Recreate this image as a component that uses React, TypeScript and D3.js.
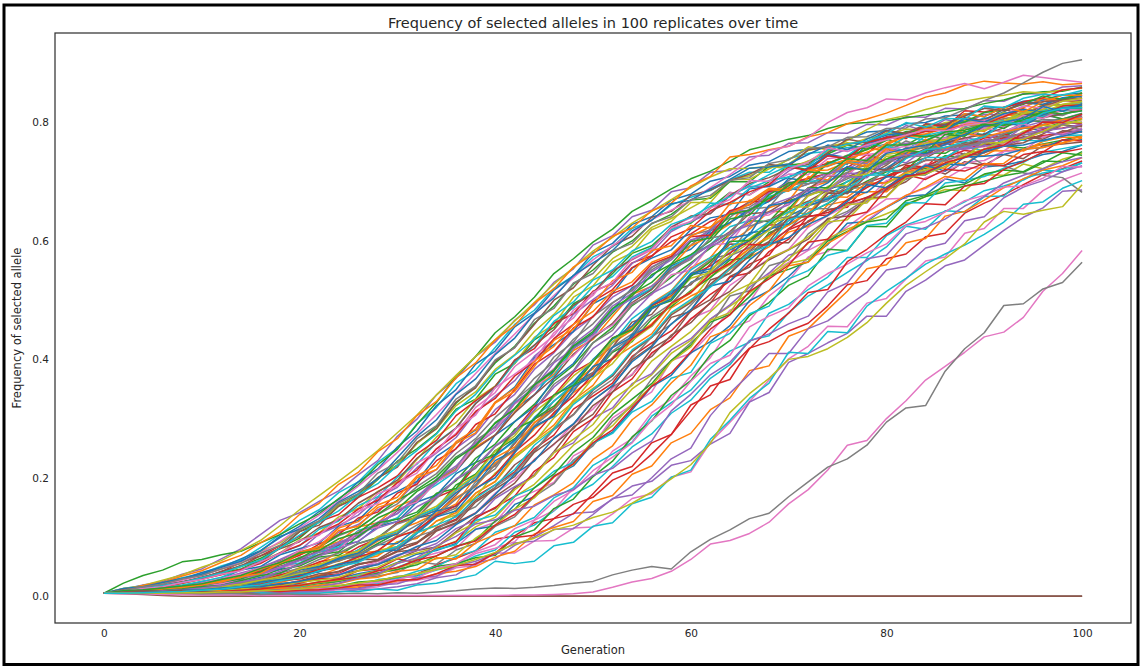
import * as d3 from 'd3';
import { useLayoutEffect, useRef } from 'react';

const WIDTH = 1141;
const HEIGHT = 666;

// generations sampled for every replicate (x values)
const GENERATIONS = [
  0, 2, 4, 6, 8, 10, 12, 14, 16, 18, 20, 22, 24, 26, 28, 30, 32, 34, 36, 38, 40, 42, 44, 46, 48, 50,
  52, 54, 56, 58, 60, 62, 64, 66, 68, 70, 72, 74, 76, 78, 80, 82, 84, 86, 88, 90, 92, 94, 96, 98, 100,
];
const X_TICKS = [0, 20, 40, 60, 80, 100];
const Y_TICKS = [0, 0.2, 0.4, 0.6, 0.8];
const TAB10 = [
  '#1f77b4', '#ff7f0e', '#2ca02c', '#d62728', '#9467bd',
  '#8c564b', '#e377c2', '#7f7f7f', '#bcbd22', '#17becf',
];

// selected allele frequency in thousandths, one row per replicate
const batchA = [
  [5,5,7,9,11,14,20,24,32,38,55,70,80,107,117,145,158,194,211,251,272,317,340,380,422,444,484,521,539,573,586,617,631,651,667,688,685,714,720,728,735,744,753,765,756,782,775,795,784,800,808],
  [5,7,8,10,11,14,16,24,28,36,40,54,59,73,76,103,109,139,156,202,225,248,293,318,363,384,428,449,490,508,542,566,597,620,650,649,690,700,715,731,755,748,766,764,790,785,806,813,811,821,828],
  [5,9,13,19,24,29,39,46,61,82,98,126,154,167,197,228,249,275,316,333,375,393,433,454,494,512,545,579,592,622,630,656,682,678,700,728,720,746,739,765,772,762,780,771,785,779,799,803,802,806,810],
  [5,6,7,7,8,10,12,13,17,19,26,34,38,54,59,77,89,116,130,168,188,210,249,272,316,338,360,405,428,448,482,510,532,561,576,619,632,653,657,695,699,728,725,754,756,763,775,782,796,802,810],
  [5,7,9,11,14,19,25,31,44,54,71,83,108,121,146,161,193,214,250,274,315,341,383,411,447,472,505,525,556,573,602,609,645,648,683,685,696,712,734,731,754,765,766,773,779,793,793,801,813,806,816],
  [5,5,5,6,7,8,10,11,14,17,24,29,37,43,55,63,77,83,109,135,148,183,205,244,286,307,353,374,418,438,482,501,540,556,597,597,634,652,661,674,686,700,725,713,734,728,746,739,761,764,767],
  [5,5,6,6,8,8,10,10,13,14,15,23,25,36,40,44,64,73,81,113,125,163,177,192,237,255,301,323,345,398,410,444,483,497,545,564,584,601,624,648,671,672,707,718,732,736,752,773,775,785,790],
  [5,9,11,14,17,22,29,36,49,60,75,83,102,115,138,156,185,207,241,266,302,330,368,396,434,460,495,518,551,571,593,620,650,657,679,702,724,726,738,756,764,779,779,796,801,798,814,814,830,830,835],
  [5,6,7,8,10,11,14,17,26,30,35,48,52,68,70,92,98,127,137,174,193,234,260,284,327,351,374,414,437,478,498,540,560,587,605,648,646,685,684,725,739,750,759,774,781,789,799,818,813,829,833],
  [5,13,18,23,31,38,51,61,82,104,128,146,175,193,226,250,291,319,359,382,420,459,483,520,541,573,590,621,635,661,674,685,703,716,716,739,748,751,758,759,772,778,778,798,793,808,799,812,822,819,823],
];

const batchB = [
  [5,5,5,6,8,7,8,10,12,16,20,21,30,38,44,57,71,77,89,113,119,155,168,203,220,258,277,315,354,373,411,430,457,499,516,540,572,594,630,633,657,675,678,705,698,725,728,735,746,751,762],
  [5,7,9,11,14,17,24,30,43,53,70,81,92,117,124,152,165,197,214,252,272,311,351,375,415,434,473,510,523,557,592,608,629,669,671,690,705,734,730,757,752,777,775,784,797,802,812,813,823,838,833],
  [5,8,10,12,13,18,23,31,34,45,51,66,69,89,99,124,138,172,195,233,257,295,324,363,390,428,454,491,513,539,563,588,611,634,633,668,678,686,700,719,710,724,722,744,741,755,761,757,764,770,778],
  [5,5,5,5,5,4,6,5,6,6,8,10,13,14,22,31,37,53,64,77,96,102,124,131,155,167,196,211,240,273,323,340,385,419,430,448,461,490,526,533,570,578,607,613,647,664,678,695,712,722,735],
  [5,11,19,25,37,46,63,80,104,128,141,160,178,205,229,270,299,340,368,405,429,466,492,530,553,593,609,641,652,683,690,716,719,742,745,765,766,783,782,797,796,810,809,824,823,837,836,849,848,860,862],
  [5,5,5,7,9,11,14,19,21,30,36,54,60,78,100,106,132,139,171,206,220,258,299,317,359,378,421,463,476,515,526,561,595,594,634,654,667,686,680,710,720,730,740,758,746,764,760,773,776,783,796],
  [5,5,6,7,7,8,11,12,17,20,25,29,37,47,59,67,83,101,123,141,174,197,231,256,291,316,351,375,410,434,469,483,525,548,570,586,623,643,660,669,702,706,730,729,755,759,765,779,787,801,805],
  [5,6,7,7,10,12,14,20,24,30,41,44,51,68,73,82,109,135,149,193,215,261,286,330,354,398,421,443,485,506,545,569,578,625,636,641,678,690,705,718,731,758,760,774,791,797,807,810,823,841,840],
  [5,9,13,16,22,28,37,44,59,73,95,107,134,148,177,193,231,269,293,333,355,394,437,459,505,524,564,580,619,633,665,665,703,710,726,730,753,760,766,762,783,776,796,785,805,801,803,811,815,825,827],
  [5,5,5,5,5,6,6,7,9,9,10,13,14,20,22,30,34,44,52,68,78,108,120,144,172,189,219,252,274,309,331,368,391,432,440,479,507,526,547,567,590,625,620,651,649,675,676,705,715,721,732],
];

const batchC = [
  [5,7,9,11,14,16,22,27,38,46,61,70,86,92,118,126,159,171,207,226,272,295,320,367,393,438,459,501,519,558,573,613,631,654,667,706,701,732,730,763,776,781,791,796,802,806,818,835,830,842,846],
  [5,5,6,7,8,10,12,14,19,23,31,35,47,61,68,91,98,127,141,174,194,238,263,289,331,356,401,422,443,487,507,523,552,573,590,615,625,661,668,683,683,711,712,736,729,753,752,755,763,766,778],
  [5,7,8,8,11,13,19,20,27,30,40,49,64,70,89,107,135,148,188,206,246,266,300,321,356,375,412,430,468,489,516,538,568,572,614,627,647,663,683,701,717,720,749,748,767,761,779,791,791,800,806],
  [5,11,14,20,24,32,41,57,68,85,101,126,138,167,183,203,240,263,305,330,354,399,418,461,477,515,528,563,575,599,612,633,647,666,668,697,706,714,724,746,735,750,744,766,759,774,777,773,778,782,785],
  [5,5,9,13,18,23,30,39,48,62,77,105,119,137,166,184,217,242,268,310,338,364,405,433,476,501,525,562,581,616,633,647,677,692,693,718,735,743,755,759,774,795,786,805,799,814,813,827,839,836,847],
  [5,6,7,8,10,12,13,17,22,29,32,43,48,62,62,82,91,115,128,162,184,222,245,283,307,348,372,413,437,475,496,527,555,583,610,638,642,680,694,710,728,752,747,766,768,795,793,811,821,820,830],
  [5,5,5,6,5,7,7,9,8,11,12,14,14,22,24,34,31,46,54,72,81,92,128,145,183,202,245,266,310,333,372,403,452,465,507,533,573,582,611,635,658,677,689,705,724,723,751,753,776,781,788],
  [5,7,9,10,14,19,22,31,39,48,66,74,81,107,118,132,165,197,217,263,285,331,358,404,429,473,496,516,555,574,610,618,640,666,685,685,696,711,732,726,749,769,758,775,770,791,784,799,805,804,810],
  [5,5,5,6,7,7,8,10,13,14,19,24,27,36,43,56,63,80,93,117,133,168,189,221,255,278,314,350,374,410,432,468,490,512,539,562,569,604,620,633,646,660,675,687,685,712,711,730,722,738,748],
  [5,8,10,12,17,19,27,31,45,50,56,75,83,111,121,132,168,188,211,257,281,328,350,372,419,438,484,503,520,554,576,594,624,635,675,685,701,702,733,734,761,752,778,786,782,801,800,818,820,828,833],
];

const batchD = [
  [5,10,15,23,29,40,49,63,77,99,118,143,163,193,215,252,279,322,349,392,414,455,478,517,541,580,596,628,641,669,679,701,709,728,734,751,755,769,771,784,786,798,800,811,813,824,826,836,838,847,850],
  [5,5,7,9,11,13,17,20,28,34,48,56,74,75,98,106,133,145,179,195,234,252,293,315,358,387,429,455,495,516,555,572,612,630,656,668,709,703,736,733,766,776,781,790,797,804,809,825,841,837,850],
  [5,9,13,17,24,31,39,50,64,81,109,125,152,172,200,222,258,287,326,355,394,422,461,490,527,551,581,600,629,645,669,672,700,700,726,728,732,747,762,755,772,780,776,781,783,796,796,804,815,806,815],
  [5,6,7,8,10,13,16,22,26,36,44,58,64,83,97,124,133,167,181,220,238,279,320,339,378,397,436,452,491,506,542,558,580,600,627,628,664,673,688,699,709,724,736,737,764,761,781,770,788,799,799],
  [5,5,6,7,7,9,10,13,16,21,24,31,35,49,55,70,77,89,114,129,165,185,203,243,259,301,318,359,376,416,435,468,492,522,546,576,586,628,647,667,688,718,716,739,742,771,770,793,802,803,813],
  [5,7,9,11,14,17,23,29,41,50,61,78,87,109,120,145,161,193,213,249,272,310,340,369,409,436,461,496,518,553,572,594,616,646,649,670,688,710,708,722,734,743,753,755,765,768,761,776,772,786,784],
  [5,5,5,6,5,5,5,5,6,7,6,8,11,12,16,24,27,33,48,52,73,73,93,94,115,117,139,165,173,201,210,260,294,329,365,401,422,456,455,495,503,536,566,573,613,621,655,655,685,703,715],
  [5,5,6,7,8,10,12,16,19,26,32,43,50,58,73,81,101,112,136,151,184,208,245,281,306,343,366,402,438,459,492,526,546,582,599,619,654,655,688,691,724,742,744,758,764,776,781,798,814,812,825],
  [5,13,17,22,29,36,46,56,76,90,112,127,153,169,199,221,258,283,322,345,383,408,447,476,513,536,570,591,623,638,656,674,704,704,722,737,759,754,762,773,779,789,787,800,804,801,817,815,830,829,832],
  [5,5,5,5,6,6,7,8,8,10,11,14,18,19,28,31,42,50,67,77,108,119,133,166,183,221,240,260,304,327,348,385,414,429,478,493,518,539,572,572,609,627,639,650,666,685,693,703,720,717,732],
];

const batchE = [
  [5,9,11,14,17,25,30,44,50,70,80,90,118,128,161,177,194,236,258,281,327,353,402,425,447,494,511,554,571,585,619,639,645,688,692,708,724,746,741,767,779,783,786,794,815,810,826,833,831,840,845],
  [5,6,7,8,10,12,16,18,25,33,39,52,64,73,93,112,124,140,167,185,223,246,283,307,344,368,403,438,460,493,512,545,563,587,608,627,648,675,674,698,698,716,725,723,747,744,761,752,768,775,775],
  [5,22,35,44,58,62,70,76,90,104,122,139,165,188,222,248,290,327,372,405,445,472,505,545,570,598,620,650,668,688,705,718,735,754,762,772,778,790,798,800,803,808,813,818,824,832,838,848,852,853,860],
  [5,6,7,7,7,10,11,14,14,20,22,30,29,43,46,63,57,81,92,132,150,169,211,234,278,300,345,367,411,433,468,495,539,546,582,603,642,644,670,690,708,720,726,741,753,749,774,772,790,791,797],
  [5,7,9,11,14,17,22,29,39,49,63,75,91,103,125,139,168,198,220,255,280,317,357,384,426,451,490,512,548,568,600,618,651,652,681,699,701,715,721,739,758,750,767,762,775,768,786,792,791,797,801],
  [5,9,13,18,23,32,39,52,58,81,109,120,152,167,200,218,260,283,328,352,397,420,459,500,521,559,592,608,640,650,677,686,702,713,729,726,754,758,764,767,774,781,793,785,809,803,823,812,829,837,837],
  [5,7,8,11,12,18,21,29,34,49,54,71,79,109,117,147,159,193,212,258,281,325,348,384,406,440,458,494,509,543,551,593,596,640,644,664,680,711,710,741,754,760,770,781,799,803,813,828,824,836,840],
  [5,6,6,6,7,8,9,10,12,11,16,18,26,30,34,40,58,54,78,89,118,134,168,190,230,254,295,321,367,398,428,457,507,516,558,568,612,636,650,672,688,704,719,740,761,763,781,790,797,805,809],
  [5,11,18,27,36,49,60,77,94,119,146,170,194,219,246,276,306,340,373,405,433,465,496,527,555,583,606,630,650,670,690,708,722,723,726,722,735,752,770,788,805,812,822,830,836,842,846,852,850,855,858],
  [5,5,5,7,9,11,14,18,22,30,38,51,62,78,97,109,134,149,180,202,237,262,302,329,359,400,428,469,493,515,551,572,589,610,632,649,665,673,701,711,718,718,741,741,760,752,772,770,769,778,779],
];

const batchF = [
  [5,6,7,8,10,12,13,19,23,33,35,48,62,67,87,89,115,144,152,188,229,247,287,304,346,388,401,442,456,493,530,545,571,614,618,642,658,692,691,722,721,748,748,763,780,780,800,794,813,824,825],
  [5,10,18,23,34,43,57,69,90,108,138,157,189,209,244,266,305,329,369,394,433,457,495,519,556,578,608,622,651,664,693,709,742,746,754,760,776,783,798,806,816,829,843,850,863,870,867,865,869,864,866],
  [5,5,5,5,6,7,6,8,9,11,11,16,17,24,26,33,36,50,55,65,69,100,112,148,164,202,228,269,296,339,364,408,432,474,496,525,541,586,584,625,624,662,675,683,693,701,710,716,732,749,745],
  [5,7,9,11,14,20,24,33,42,58,69,88,104,132,142,174,189,229,249,290,308,349,392,413,453,472,511,525,561,574,607,610,651,661,684,688,723,731,745,747,775,773,798,793,820,818,825,835,842,855,859],
  [5,5,5,5,5,5,6,5,6,6,7,7,7,11,12,16,21,31,36,56,63,86,100,119,140,142,164,186,194,221,229,257,275,328,344,395,410,428,444,473,473,515,534,558,568,593,618,640,656,684,686],
  [5,5,5,6,7,8,10,12,16,20,25,34,42,53,61,76,90,111,124,140,168,191,230,257,283,322,345,384,405,441,462,496,515,548,568,585,603,638,642,672,675,708,727,729,743,749,761,766,781,796,793],
  [5,5,9,13,17,22,31,37,48,57,77,92,115,143,157,191,208,249,275,319,344,388,413,440,483,508,551,568,585,624,639,648,682,678,697,713,712,739,743,746,750,754,768,774,770,791,784,798,786,800,808],
  [5,6,7,9,10,12,16,19,25,31,41,48,60,70,86,101,120,137,164,187,222,249,288,315,350,377,414,438,472,494,529,545,575,589,621,634,660,668,693,697,720,718,737,735,748,728,727,715,711,707,682],
  [5,5,6,7,7,8,10,12,16,17,24,27,32,43,49,64,73,82,107,124,144,180,203,242,265,290,332,356,397,422,447,480,511,527,571,585,607,633,661,664,697,714,720,731,742,766,766,785,795,795,805],
  [5,9,11,14,19,25,32,45,57,73,85,113,127,153,168,201,223,260,284,326,352,395,423,464,487,523,540,573,589,619,632,664,661,689,702,708,720,729,744,767,757,776,770,786,778,798,803,804,810,815,820],
];

const batchG = [
  [5,6,7,8,10,12,15,20,24,33,44,50,64,73,95,105,131,145,175,197,238,264,300,337,362,399,434,457,492,511,543,549,585,601,620,629,660,671,683,682,709,706,728,718,742,743,746,755,758,770,771],
  [5,5,5,5,5,5,6,7,7,9,9,11,13,16,19,26,29,38,42,50,66,76,105,116,126,160,170,206,220,259,275,315,335,381,389,439,452,484,515,553,560,597,604,642,650,669,690,705,720,727,741],
  [5,7,9,11,14,18,24,29,41,54,64,82,104,115,138,162,180,202,235,255,293,316,355,381,419,443,478,511,530,561,577,600,637,644,678,698,701,731,744,754,770,785,786,793,801,817,821,831,845,839,850],
  [5,9,13,16,22,29,36,45,55,73,86,107,122,147,162,192,213,249,273,312,334,372,396,435,459,498,518,555,574,607,621,651,665,683,695,725,719,744,739,766,775,776,785,788,795,797,810,823,817,828,830],
  [5,8,10,12,14,19,24,32,37,48,60,69,89,99,124,140,169,192,232,259,287,326,353,394,418,442,481,504,524,548,573,593,614,627,660,672,684,687,714,715,737,732,755,756,757,767,771,783,786,790,797],
  [5,7,7,7,10,11,16,16,19,26,29,38,41,55,60,75,79,110,123,159,181,202,243,266,290,331,355,399,423,471,481,534,545,576,599,640,641,681,680,721,720,740,756,766,774,780,791,810,808,815,822],
  [5,9,14,20,27,35,46,58,73,92,115,137,160,186,213,243,274,307,342,376,410,443,476,508,538,568,592,614,636,652,668,690,712,736,753,760,775,800,817,825,840,838,850,859,866,857,868,880,876,872,868],
  [5,5,7,9,11,14,16,22,28,39,47,62,73,89,98,122,133,165,197,216,253,275,314,358,381,428,449,493,511,552,569,605,611,654,657,696,697,701,716,736,730,752,758,758,761,767,777,779,784,797,787],
  [5,6,7,8,10,12,15,17,24,30,38,43,55,63,77,84,108,119,146,167,208,234,260,301,328,369,393,432,456,493,514,552,575,597,618,657,658,692,694,728,746,751,765,771,781,787,802,820,817,831,836],
  [5,5,5,7,6,8,9,11,11,14,15,24,26,34,38,49,61,79,87,128,137,169,183,211,226,258,275,311,329,368,378,427,444,477,490,536,550,576,584,626,630,665,664,698,702,709,723,733,750,756,762],
];

const batchH = [
  [5,13,16,23,30,37,49,59,76,101,113,131,159,177,198,234,270,298,341,367,408,436,477,504,542,563,584,617,635,663,669,688,704,723,725,730,746,762,754,772,787,777,790,787,806,801,815,822,818,825,829],
  [5,7,9,11,15,19,26,32,46,56,74,84,115,126,154,167,203,221,261,282,328,351,397,422,459,481,515,531,564,577,608,624,646,662,687,684,719,727,738,750,762,778,790,789,815,810,826,818,835,846,846],
  [5,5,5,6,7,7,8,10,12,15,17,22,25,30,39,45,53,68,84,95,127,147,183,206,243,268,307,333,359,398,424,463,476,506,541,552,565,600,616,632,637,668,677,692,696,713,720,717,735,734,751],
  [5,5,6,7,8,10,12,16,20,27,34,45,53,66,77,100,112,136,153,181,205,244,272,310,338,375,401,435,458,495,513,544,562,594,593,621,641,648,664,673,691,712,704,721,718,731,727,746,751,750,756],
  [5,5,5,5,5,5,5,7,6,7,7,9,12,13,19,21,31,34,51,59,71,90,93,113,114,138,165,171,200,232,250,305,343,375,410,410,452,465,490,513,551,557,588,596,634,641,673,691,702,717,727],
  [5,11,14,18,24,30,42,51,68,80,92,116,129,157,176,196,233,258,284,325,354,398,424,450,491,512,549,569,587,623,642,646,677,697,707,722,729,749,772,766,786,782,797,797,811,824,820,832,835,838,842],
  [5,5,5,5,6,6,7,8,9,9,12,13,14,20,23,28,37,47,55,75,87,114,129,160,179,212,235,259,297,323,363,393,407,455,473,487,524,545,561,580,595,626,633,649,668,677,691,693,706,726,725],
  [5,6,8,6,4,3,2,1,0,0,0,0,0,0,0,0,0,0,0,0,0,0,0,0,0,0,0,0,0,0,0,0,0,0,0,0,0,0,0,0,0,0,0,0,0,0,0,0,0,0,0],
  [5,6,7,8,10,12,17,20,27,33,46,53,67,76,101,111,137,152,182,204,245,271,311,337,372,397,430,452,486,505,537,547,587,604,628,640,676,689,708,713,743,745,771,769,795,798,801,815,822,836,841],
  [5,9,13,18,23,31,39,50,61,81,103,125,144,171,190,221,246,274,313,341,380,407,434,474,497,534,551,583,599,628,640,659,675,694,712,727,726,754,764,769,781,800,792,807,806,828,825,841,848,846,854],
];

const batchI = [
  [5,6,7,7,8,10,11,15,16,21,25,32,36,47,53,68,84,94,121,140,172,206,228,267,291,331,356,396,421,460,484,524,532,568,594,606,628,643,667,695,690,712,712,730,728,751,760,762,770,777,785],
  [5,7,9,12,14,20,24,33,38,56,72,80,111,118,150,160,200,214,258,276,326,346,388,432,451,493,533,547,584,592,626,622,663,667,689,687,718,720,733,726,756,745,772,753,782,776,784,791,796,805,807],
  [5,7,9,10,12,16,18,26,35,39,55,70,75,101,124,130,142,174,182,226,240,282,298,340,356,396,436,450,488,499,540,565,599,601,628,654,690,690,723,721,738,753,750,780,777,800,790,810,817,820,826],
  [5,5,5,5,5,6,6,6,8,8,10,11,14,19,19,27,28,38,52,54,73,99,103,131,139,173,208,219,259,273,313,355,366,418,451,478,513,518,565,586,611,632,663,661,693,697,721,734,750,771,769],
  [5,5,7,9,11,14,18,24,30,42,53,68,80,93,115,126,151,168,198,219,254,278,315,353,380,418,441,477,511,529,560,591,606,636,648,661,689,684,709,707,735,746,745,754,755,761,761,774,785,779,789],
  [5,4,3,1,0,0,0,0,0,0,0,0,0,0,0,0,0,0,0,0,0,0,0,0,0,0,0,0,0,0,0,0,0,0,0,0,0,0,0,0,0,0,0,0,0,0,0,0,0,0,0],
  [5,9,13,16,23,28,37,43,58,72,94,103,131,142,173,186,225,243,284,306,352,375,399,445,470,513,530,570,586,622,633,656,670,702,701,722,733,757,751,762,771,779,788,786,795,800,793,812,807,822,821],
  [5,10,16,20,29,35,46,55,72,86,112,127,157,173,208,226,266,288,333,355,399,420,467,486,529,545,583,596,630,641,670,677,702,707,731,737,756,759,775,776,790,791,806,808,822,837,850,867,885,900,906],
  [5,5,6,7,7,8,9,11,12,15,17,23,27,32,36,49,56,63,70,98,120,147,166,201,223,263,288,324,355,396,421,466,479,527,541,570,596,632,636,670,674,707,713,726,746,755,769,772,785,801,800],
  [5,5,5,5,5,4,5,4,6,4,5,5,8,8,12,10,19,22,29,36,59,55,59,85,91,118,124,156,167,201,213,265,297,334,360,412,410,447,445,490,515,537,561,578,593,611,632,662,666,689,702],
];

const batchJ = [
  [5,6,7,7,10,11,14,16,24,28,36,41,54,60,75,78,106,134,144,182,200,242,286,304,354,372,420,438,486,502,545,553,605,611,660,665,681,698,726,718,748,756,762,768,780,794,801,807,827,819,832],
  [5,5,6,5,7,7,9,9,11,14,13,19,21,29,32,42,45,65,63,90,104,119,154,171,192,231,254,298,323,360,390,438,451,491,516,558,564,596,615,642,657,677,691,709,704,730,731,755,758,765,774],
  [5,9,11,14,17,21,28,35,47,57,73,77,97,107,132,147,177,196,232,254,292,317,357,382,423,447,486,507,543,561,599,605,645,652,672,693,717,714,739,736,762,762,769,784,787,797,795,805,818,815,820],
  [5,5,5,6,7,7,8,10,12,16,18,24,28,32,43,48,61,68,84,93,120,138,170,202,224,259,281,318,355,377,413,451,475,515,536,559,598,603,641,649,688,709,715,732,741,755,762,782,801,800,814],
  [5,5,5,6,5,7,7,8,8,11,12,16,22,31,37,55,65,85,101,122,129,145,152,170,180,204,216,242,262,313,341,374,395,431,443,460,473,514,529,570,576,612,623,637,659,675,698,711,722,734,741],
  [5,7,9,8,10,8,6,5,3,2,1,0,0,0,0,0,0,0,0,0,0,0,0,0,0,0,0,0,0,0,0,0,0,0,0,0,0,0,0,0,0,0,0,0,0,0,0,0,0,0,0],
  [5,4,4,3,3,2,2,2,1,1,1,1,1,1,1,1,1,1,1,1,1,2,2,3,4,7,15,24,30,42,62,88,94,106,125,156,180,213,255,263,300,330,365,388,412,438,446,471,515,545,584],
  [5,6,5,6,5,4,5,4,3,4,3,3,4,5,4,6,5,7,9,12,14,13,15,18,22,25,36,44,50,46,75,96,112,131,140,168,193,218,232,255,294,318,322,380,418,445,491,494,519,530,564],
  [5,5,6,5,6,6,7,7,9,10,12,15,18,22,27,33,38,45,52,62,74,88,98,112,120,133,142,157,176,198,222,258,310,342,368,400,405,418,437,462,495,525,548,570,595,632,650,645,652,658,695],
  [5,5,6,7,8,10,12,16,19,26,31,43,50,57,73,84,107,120,134,165,188,214,255,282,324,349,375,416,439,479,501,522,553,579,593,635,647,664,687,711,712,739,754,758,768,776,800,798,816,824,825],
];

const replicates = [
  ...batchA, ...batchB, ...batchC, ...batchD, ...batchE,
  ...batchF, ...batchG, ...batchH, ...batchI, ...batchJ,
];

const TEXT = '#262626';
const FONT = '"DejaVu Sans", Verdana, sans-serif';

const AlleleChart = () => {
  const ref = useRef<SVGSVGElement>(null);

  useLayoutEffect(() => {
    const margin = { top: 33, right: 10, bottom: 43, left: 55 };
    const svg = d3.select(ref.current);
    svg.selectAll('*').remove();

    // matplotlib style 5% padding around the data
    const [gMin, gMax] = d3.extent(GENERATIONS) as [number, number];
    const gPad = (gMax - gMin) * 0.05;
    const fMax = (d3.max(replicates, (r) => d3.max(r)) as number) / 1000;
    const fPad = fMax * 0.05;

    const x = d3
      .scaleLinear()
      .domain([gMin - gPad, gMax + gPad])
      .range([margin.left, WIDTH - margin.right]);

    const y = d3
      .scaleLinear()
      .domain([-fPad, fMax + fPad])
      .range([HEIGHT - margin.bottom, margin.top]);

    svg
      .append('rect')
      .attr('x', 0)
      .attr('y', 0)
      .attr('width', WIDTH)
      .attr('height', HEIGHT)
      .attr('fill', '#fff');

    svg
      .append('defs')
      .append('clipPath')
      .attr('id', 'plot-clip')
      .append('rect')
      .attr('x', margin.left)
      .attr('y', margin.top)
      .attr('width', WIDTH - margin.right - margin.left)
      .attr('height', HEIGHT - margin.bottom - margin.top);

    const line = d3
      .line<number>()
      .x((_, i) => x(GENERATIONS[i]))
      .y((d) => y(d / 1000));

    svg
      .append('g')
      .attr('clip-path', 'url(#plot-clip)')
      .selectAll('path')
      .data(replicates)
      .join('path')
      .attr('fill', 'none')
      .attr('stroke', (_, i) => TAB10[i % TAB10.length])
      .attr('stroke-width', 1.5)
      .attr('stroke-linejoin', 'round')
      .attr('d', (d) => line(d));

    const xAxis = (g) =>
      g
        .attr('transform', `translate(0,${HEIGHT - margin.bottom})`)
        .call(d3.axisBottom(x).tickValues(X_TICKS).tickFormat(d3.format('d')).tickSize(0).tickPadding(6.5))
        .call((g) => g.select('.domain').remove());

    const yAxis = (g) =>
      g
        .attr('transform', `translate(${margin.left},0)`)
        .call(d3.axisLeft(y).tickValues(Y_TICKS).tickFormat(d3.format('.1f')).tickSize(0).tickPadding(6))
        .call((g) => g.select('.domain').remove());

    svg.append('g').call(xAxis);
    svg.append('g').call(yAxis);
    svg
      .selectAll('.tick text')
      .attr('fill', TEXT)
      .attr('font-family', FONT)
      .attr('font-size', 10.5);

    // axes frame
    svg
      .append('rect')
      .attr('x', margin.left)
      .attr('y', margin.top)
      .attr('width', WIDTH - margin.right - margin.left)
      .attr('height', HEIGHT - margin.bottom - margin.top)
      .attr('fill', 'none')
      .attr('stroke', '#333')
      .attr('stroke-width', 1.25);

    const cx = (margin.left + WIDTH - margin.right) / 2;

    svg
      .append('text')
      .attr('x', cx)
      .attr('y', 27.5)
      .attr('text-anchor', 'middle')
      .attr('font-family', FONT)
      .attr('font-size', 14.5)
      .attr('fill', TEXT)
      .text('Frequency of selected alleles in 100 replicates over time');

    svg
      .append('text')
      .attr('x', cx)
      .attr('y', 653.5)
      .attr('text-anchor', 'middle')
      .attr('font-family', FONT)
      .attr('font-size', 11.5)
      .attr('fill', TEXT)
      .text('Generation');

    svg
      .append('text')
      .attr('transform', `translate(20.5,${(margin.top + HEIGHT - margin.bottom) / 2}) rotate(-90)`)
      .attr('text-anchor', 'middle')
      .attr('font-family', FONT)
      .attr('font-size', 11.5)
      .attr('fill', TEXT)
      .text('Frequency of selected allele');

    // outer border of the figure
    svg
      .append('rect')
      .attr('x', 4)
      .attr('y', 5)
      .attr('width', 1134)
      .attr('height', 659.5)
      .attr('fill', 'none')
      .attr('stroke', '#000')
      .attr('stroke-width', 3);

    return () => {
      svg.selectAll('*').remove();
    };
  }, []);

  return (
    <svg
      ref={ref}
      width={WIDTH}
      height={HEIGHT}
      style={{ position: 'absolute', left: 0, top: 0, display: 'block' }}
    />
  );
};

export default function App() {
  return <AlleleChart />;
}
